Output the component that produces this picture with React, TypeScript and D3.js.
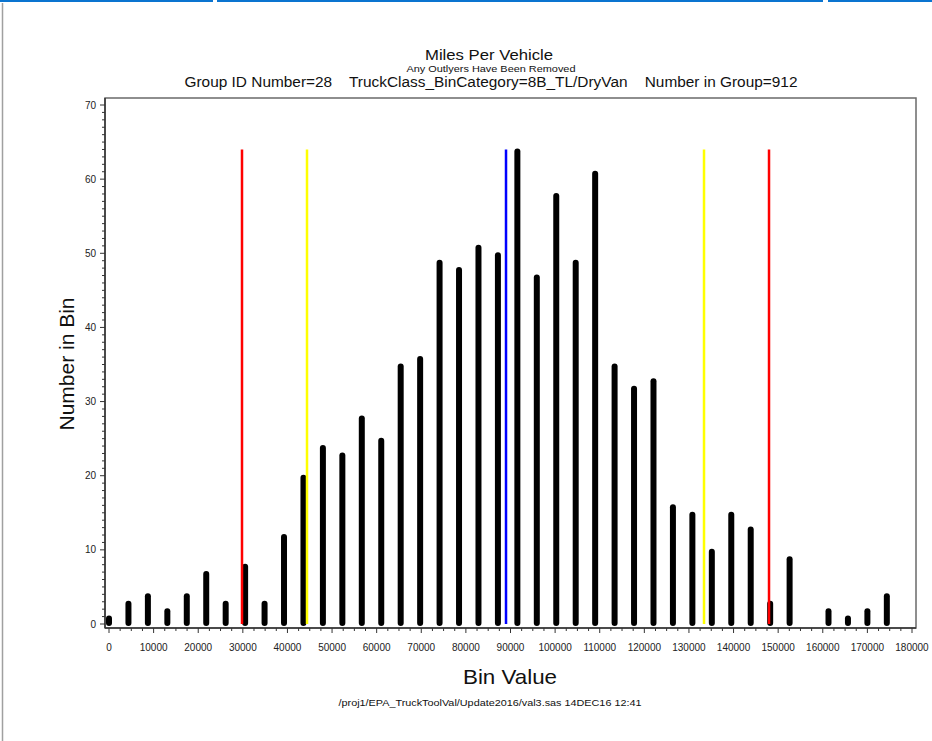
import React from "react";
import * as d3 from "d3";

const binWidth = 4359;
const binCounts = [
  1, 3, 4, 2, 4, 7, 3, 8, 3, 12,
  20, 24, 23, 28, 25, 35, 36, 49, 48, 51,
  50, 64, 47, 58, 49, 61, 35, 32, 33, 16,
  15, 10, 15, 13, 3, 9, 0, 2, 1, 2, 4,
];
const refLines = [
  { value: 29814, color: "#ff0000" },
  { value: 44385, color: "#ffff00" },
  { value: 88994, color: "#0000ff" },
  { value: 133378, color: "#ffff00" },
  { value: 147948, color: "#ff0000" },
];
const refTop = 64;
const xTicks = d3.range(0, 180001, 10000);
const xMinor = d3.range(0, 180001, 2500);
const yTicks = d3.range(0, 71, 10);
const yMinor = d3.range(0, 71, 1);

const titleText = "Miles Per Vehicle";
const subtitleText = "Any Outlyers Have Been Removed";
const groupText = "Group ID Number=28    TruckClass_BinCategory=8B_TL/DryVan    Number in Group=912";
const footText = "/proj1/EPA_TruckToolVal/Update2016/val3.sas 14DEC16 12:41";

export default function App() {
  const W = 932, H = 741;
  const x = d3.scaleLinear().domain([0, 180000]).range([109, 912]);
  const y = d3.scaleLinear().domain([0, 70]).range([624, 105]);
  const frame = { l: 105, t: 98, r: 916, b: 628 };
  const font = "Liberation Sans, Arial, sans-serif";
  return (
    <svg width={W} height={H} style={{ position: "absolute", left: 0, top: 0, background: "#fff" }} fontFamily={font}>
      <rect x={0} y={0} width={W} height={H} fill="#fff" />
      {/* window chrome */}
      <line x1={0} x2={213} y1={1} y2={1} stroke="#0a74d0" strokeWidth={2} />
      <line x1={217} x2={823} y1={1} y2={1} stroke="#0a74d0" strokeWidth={2} />
      <line x1={828} x2={932} y1={1} y2={1} stroke="#0a74d0" strokeWidth={2} />
      <line x1={2.5} x2={2.5} y1={3} y2={H} stroke="#a0a0a0" strokeWidth={1.5} />

      {/* titles */}
      <text x={489} y={60} textAnchor="middle" fontSize={15.5} fill="#111" textLength={128} lengthAdjust="spacingAndGlyphs">{titleText}</text>
      <text x={491} y={72} textAnchor="middle" fontSize={9.5} fill="#111" textLength={169} lengthAdjust="spacingAndGlyphs">{subtitleText}</text>
      <text x={491} y={87} textAnchor="middle" fontSize={14} fill="#111" style={{ whiteSpace: "pre" }} textLength={613} lengthAdjust="spacingAndGlyphs">{groupText}</text>

      {/* frame */}
      <rect x={frame.l} y={frame.t} width={frame.r - frame.l} height={frame.b - frame.t} fill="none" stroke="#6a6a6a" strokeWidth={1.5} />
      <line x1={frame.l} x2={frame.l} y1={frame.t} y2={frame.b} stroke="#333" strokeWidth={1.5} />
      <line x1={frame.l} x2={frame.r} y1={frame.b} y2={frame.b} stroke="#333" strokeWidth={1.5} />

      {/* y ticks */}
      {yMinor.map((v) => (
        <line key={"ym" + v} x1={frame.l} x2={frame.l - (v % 10 === 0 ? 5 : 3)} y1={y(v)} y2={y(v)} stroke="#333" strokeWidth={1} />
      ))}
      {yTicks.map((v) => (
        <text key={"yt" + v} x={96} y={y(v) + 3.5} textAnchor="end" fontSize={10} fill="#222">{v}</text>
      ))}

      {/* x ticks */}
      {xMinor.map((v) => (
        <line key={"xm" + v} x1={x(v)} x2={x(v)} y1={frame.b} y2={frame.b + (v % 10000 === 0 ? 5 : 3)} stroke="#333" strokeWidth={1} />
      ))}
      {xTicks.map((v) => (
        <text key={"xt" + v} x={x(v)} y={651} textAnchor="middle" fontSize={10} fill="#222">{v}</text>
      ))}

      {/* bars */}
      {binCounts.map((c, i) =>
        c > 0 ? (
          <line key={"b" + i} x1={x(i * binWidth)} x2={x(i * binWidth)} y1={y(0) - 1} y2={y(c) + 2} stroke="#000" strokeWidth={6} strokeLinecap="round" />
        ) : null
      )}

      {/* reference lines */}
      {refLines.map((r, i) => (
        <line key={"r" + i} x1={x(r.value)} x2={x(r.value)} y1={y(0)} y2={y(refTop)} stroke={r.color} strokeWidth={2.5} />
      ))}

      {/* axis labels */}
      <text transform={`translate(74,364) rotate(-90)`} textAnchor="middle" fontSize={21} fill="#111">Number in Bin</text>
      <text x={510} y={684} textAnchor="middle" fontSize={21} fill="#111" textLength={94} lengthAdjust="spacingAndGlyphs">Bin Value</text>
      <text x={490} y={706} textAnchor="middle" fontSize={9.5} fill="#111" textLength={303} lengthAdjust="spacingAndGlyphs">{footText}</text>
    </svg>
  );
}
